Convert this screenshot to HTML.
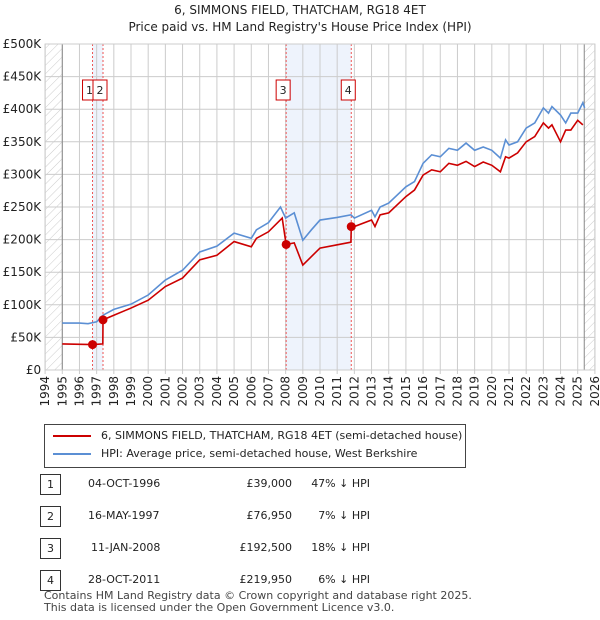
<!DOCTYPE html>
<html><head><meta charset="utf-8"><style>
body{margin:0;background:#fff;font-family:"DejaVu Sans","Liberation Sans",sans-serif;}
#wrap{position:relative;width:600px;height:620px;overflow:hidden}
.t{position:absolute;font-size:12px;color:#222}
.row{position:absolute;left:0;width:600px;height:20px;font-size:11px;color:#222}
.row span{position:absolute;top:3px}
.nb{position:absolute;left:40px;top:0;width:19px;height:19px;border:1px solid #333;text-align:center;line-height:19px;font-size:11px}
</style></head><body>
<div id="wrap">
<div class="t" style="left:0;width:600px;text-align:center;top:3px;font-size:12px">6, SIMMONS FIELD, THATCHAM, RG18 4ET</div>
<div class="t" style="left:0;width:600px;text-align:center;top:20px;font-size:12px">Price paid vs. HM Land Registry's House Price Index (HPI)</div>
<svg id="chart" width="600" height="420" style="position:absolute;left:0;top:0" font-family="DejaVu Sans, Liberation Sans, sans-serif"></svg>
<div style="position:absolute;left:44px;top:424px;width:420px;height:42px;border:1px solid #444">
 <div style="position:absolute;left:8px;top:4px;font-size:11px;color:#222"><span style="display:inline-block;width:38px;height:2px;background:#cc0000;vertical-align:middle;margin-right:10px"></span>6, SIMMONS FIELD, THATCHAM, RG18 4ET (semi-detached house)</div>
 <div style="position:absolute;left:8px;top:22px;font-size:11px;color:#222"><span style="display:inline-block;width:38px;height:2px;background:#5b8fd4;vertical-align:middle;margin-right:10px"></span>HPI: Average price, semi-detached house, West Berkshire</div>
</div>
<div class="row" style="top:474px"><div class="nb">1</div><span style="left:88px">04-OCT-1996</span><span style="left:222px;width:70px;text-align:right">£39,000</span><span style="left:290px;width:80px;text-align:right">47% ↓ HPI</span></div>
<div class="row" style="top:506px"><div class="nb">2</div><span style="left:88px">16-MAY-1997</span><span style="left:222px;width:70px;text-align:right">£76,950</span><span style="left:290px;width:80px;text-align:right">7% ↓ HPI</span></div>
<div class="row" style="top:538px"><div class="nb">3</div><span style="left:91px">11-JAN-2008</span><span style="left:222px;width:70px;text-align:right">£192,500</span><span style="left:290px;width:80px;text-align:right">18% ↓ HPI</span></div>
<div class="row" style="top:570px"><div class="nb">4</div><span style="left:88px">28-OCT-2011</span><span style="left:222px;width:70px;text-align:right">£219,950</span><span style="left:290px;width:80px;text-align:right">6% ↓ HPI</span></div>
<div class="t" style="left:44px;top:590px;font-size:11px;color:#444;line-height:12px">Contains HM Land Registry data © Crown copyright and database right 2025.<br>This data is licensed under the Open Government Licence v3.0.</div>
</div>
<script>
const hpiYears=[1995,1996,1996.5,1997,1997.37,1998,1999,2000,2001,2002,2003,2004,2005,2006,2006.3,2007,2007.7,2008,2008.5,2009,2009.5,2010,2011,2011.8,2012,2013,2013.2,2013.5,2014,2015,2015.5,2016,2016.5,2017,2017.5,2018,2018.5,2019,2019.5,2020,2020.5,2020.8,2021,2021.5,2022,2022.5,2023,2023.3,2023.5,2024,2024.3,2024.6,2025,2025.3,2025.4];
const hpiValues=[72,72,71,74,84,93,101,115,138,153,181,190,210,202,215,226,250,233,241,199,215,230,234,238,233,245,235,250,256,281,289,317,330,327,340,337,348,337,342,337,325,353,345,350,371,379,402,394,404,391,379,394,394,410,402];
const priceYears=[1995,1996.76,1996.77,1997.36,1997.37,1998,1999,2000,2001,2002,2003,2004,2005,2006,2006.3,2007,2007.8,2008.03,2008.5,2009,2009.5,2010,2011,2011.8,2011.82,2012,2013,2013.2,2013.5,2014,2015,2015.5,2016,2016.5,2017,2017.5,2018,2018.5,2019,2019.5,2020,2020.5,2020.8,2021,2021.5,2022,2022.5,2023,2023.3,2023.5,2024,2024.3,2024.6,2025,2025.3];
const priceValues=[40,39,39,40,76.95,84,95,107,128,141,169,176,197,189,202,212,233,192.5,195,161,174,187,192,196,219.95,220,230,220,238,241,266,276,299,307,304,317,314,320,312,319,314,304,327,325,333,350,358,379,371,376,350,368,368,383,376];
const saleYears=[1996.76,1997.37,2008.03,2011.82];
const salePrices=[39,76.95,192.5,219.95];
const saleLabels=["1","2","3","4"];
const yTicks=[0,50,100,150,200,250,300,350,400,450,500];
const yTickLabels=["£0","£50K","£100K","£150K","£200K","£250K","£300K","£350K","£400K","£450K","£500K"];
const xTicks=[1994,1995,1996,1997,1998,1999,2000,2001,2002,2003,2004,2005,2006,2007,2008,2009,2010,2011,2012,2013,2014,2015,2016,2017,2018,2019,2020,2021,2022,2023,2024,2025,2026];

const L=45.1,R=594.9,T=44,B=370;
const x=y=>L+(y-1994)/32*(R-L);
const yv=v=>B-v/500*(B-T);
const svg=document.getElementById('chart');
const NS='http://www.w3.org/2000/svg';
function mk(t,a,p){const e=document.createElementNS(NS,t);for(const k in a)e.setAttribute(k,a[k]);(p||svg).appendChild(e);return e;}
const defs=mk('defs',{});
const pat=mk('pattern',{id:'hatch',width:6,height:6,patternUnits:'userSpaceOnUse',patternTransform:'rotate(45)'},defs);
mk('line',{x1:0,y1:0,x2:0,y2:6,stroke:'#ccc','stroke-width':1},pat);
let e;
e=mk('rect',{x:L,y:T,width:R-L,height:B-T,fill:'#fff'});

e=mk('rect',{x:x(1994),y:T,width:x(1995)-x(1994),height:B-T,fill:'url(#hatch)'});

e=mk('rect',{x:x(2025.38),y:T,width:R-x(2025.38),height:B-T,fill:'url(#hatch)'});

e=mk('rect',{x:x(saleYears[0]),y:T,width:x(saleYears[1])-x(saleYears[0]),height:B-T,fill:'#eef3fc'});

e=mk('rect',{x:x(saleYears[2]),y:T,width:x(saleYears[3])-x(saleYears[2]),height:B-T,fill:'#eef3fc'});

yTicks.forEach((v,i)=>{
 e=mk('line',{x1:L,x2:R,y1:yv(v),y2:yv(v),stroke:'#ccc','stroke-width':1});
 
 e=mk('text',{x:L-4,y:yv(v)+4,'text-anchor':'end','font-size':12,fill:'#222'});e.textContent=yTickLabels[i];
 
});
xTicks.forEach(t=>{
 e=mk('line',{x1:x(t),x2:x(t),y1:T,y2:B+4,stroke:'#ccc','stroke-width':1});
 
 e=mk('text',{x:x(t)+4,y:B+6,'text-anchor':'end','font-size':12,fill:'#222',transform:`rotate(-90 ${x(t)+4} ${B+6})`});e.textContent=t;
 
});
e=mk('line',{x1:x(1995),x2:x(1995),y1:T,y2:B,stroke:'#888'});
e=mk('line',{x1:x(2025.38),x2:x(2025.38),y1:T,y2:B,stroke:'#888'});
saleYears.forEach((s,i)=>{
 e=mk('line',{x1:x(s),x2:x(s),y1:T,y2:B,stroke:'#e55','stroke-width':1,'stroke-dasharray':'2,2'});
 
});
e=mk('polyline',{points:hpiYears.map((t,i)=>x(t)+','+yv(hpiValues[i])).join(' '),fill:'none',stroke:'#5b8fd4','stroke-width':1.6});

e=mk('polyline',{points:priceYears.map((t,i)=>x(t)+','+yv(priceValues[i])).join(' '),fill:'none',stroke:'#cc0000','stroke-width':1.6});

saleYears.forEach((s,i)=>{
 e=mk('circle',{cx:x(s),cy:yv(salePrices[i]),r:4.5,fill:'#cc0000'});
 
 const bx=x(s)-10;
 e=mk('rect',{x:bx,y:80,width:14,height:20,fill:'#fff',stroke:'#cc0000'});
 
 e=mk('text',{x:bx+7,y:94,'text-anchor':'middle','font-size':11,fill:'#222'});e.textContent=saleLabels[i];
 
});
e=mk('rect',{x:L,y:T,width:R-L,height:B-T,fill:'none',stroke:'#ccc'});

</script>
</body></html>
